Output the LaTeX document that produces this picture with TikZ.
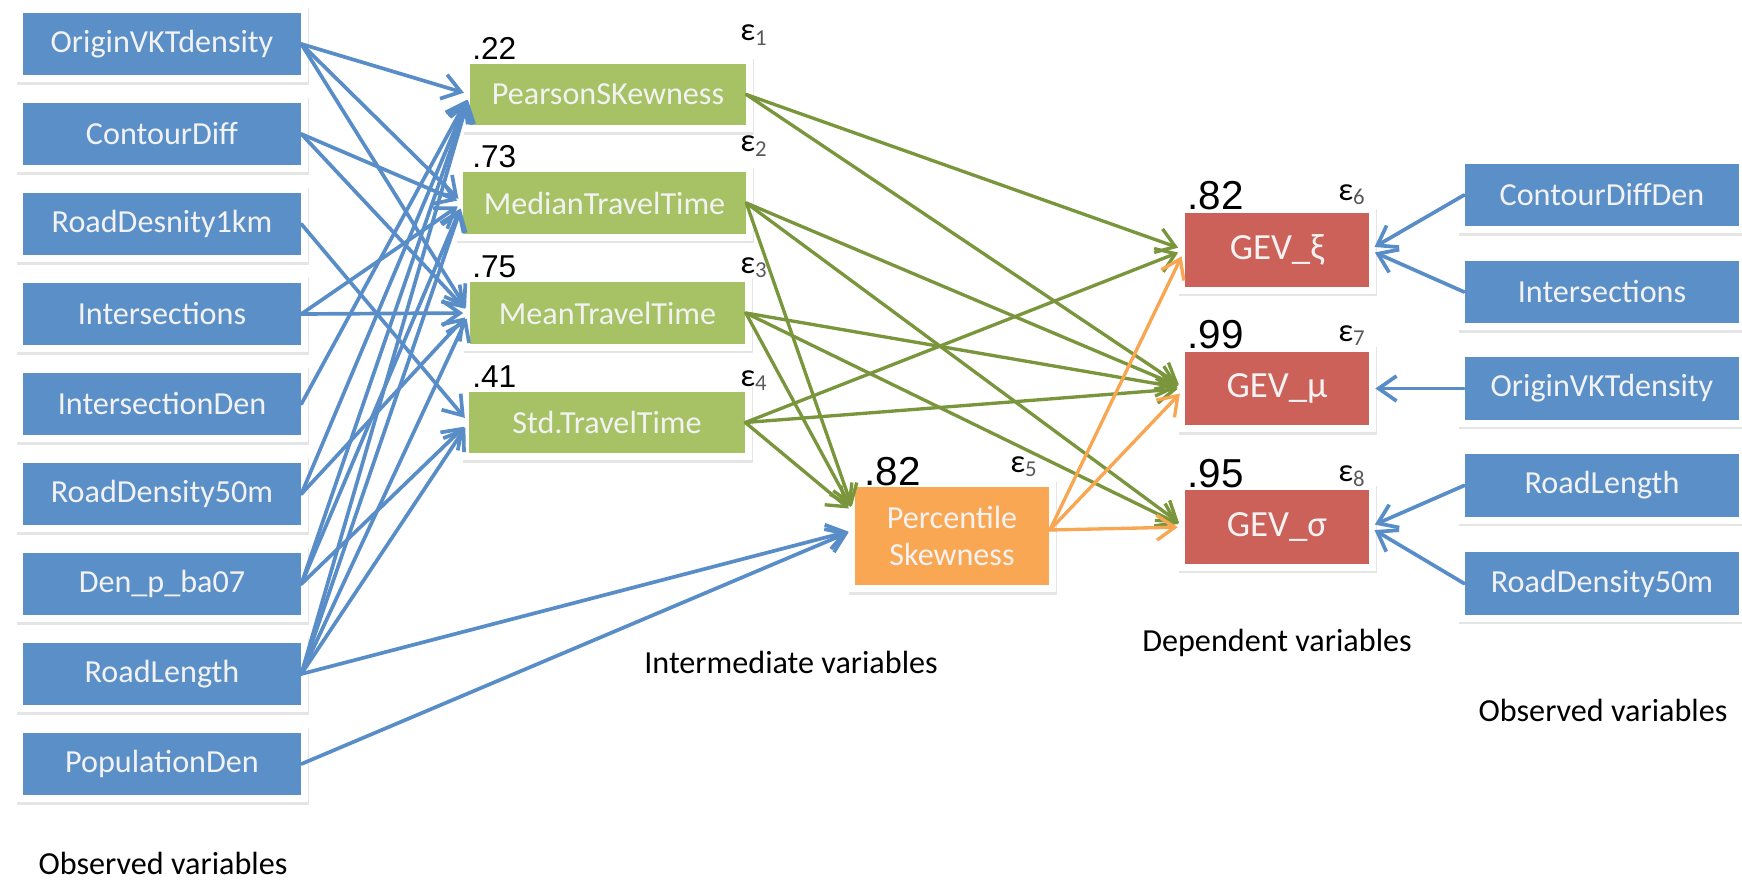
\documentclass[tikz,border=0pt]{standalone}
\usepackage{fontspec}
\setmainfont{Carlito}
\newfontfamily\numfont{Liberation Sans}
\usetikzlibrary{arrows.meta,shadows}
\definecolor{obsblue}{RGB}{91,143,200}
\definecolor{lineblue}{RGB}{88,141,200}
\definecolor{midgreen}{RGB}{166,194,100}
\definecolor{linegreen}{RGB}{122,150,60}
\definecolor{depred}{RGB}{204,97,89}
\definecolor{pctorange}{RGB}{250,167,84}
\definecolor{lineorange}{RGB}{249,166,82}
\begin{document}
\begin{tikzpicture}[x=0.02cm,y=-0.02cm,
  card/.style={rectangle, inner sep=0pt, text=white!95!black,
    font=\fontsize{18.3}{21}\selectfont,
    drop shadow={shadow xshift=0.02cm, shadow yshift=-0.05cm, fill=black!25, draw=black!25, line width=0.28cm, opacity=0.4},
    preaction={draw=white, line width=0.28cm}},
  obs/.style={card, fill=obsblue, minimum width=5.56cm, minimum height=1.26cm},
  robs/.style={card, fill=obsblue, minimum width=5.5cm, minimum height=1.26cm},
  mid/.style={card, fill=midgreen, minimum width=5.52cm, minimum height=1.24cm},
  dep/.style={card, fill=depred, minimum width=3.68cm, minimum height=1.48cm, font=\fontsize{21}{24}\selectfont},
  pctbox/.style={card, fill=pctorange, minimum width=3.9cm, minimum height=1.98cm, align=center},
  numlab/.style={inner sep=0pt, anchor=base west, font=\numfont\fontsize{18}{18}\selectfont},
  biglab/.style={inner sep=0pt, anchor=base west, font=\numfont\fontsize{23}{23}\selectfont},
  epslab/.style={inner sep=0pt, anchor=base west, font=\fontsize{18.5}{18}\selectfont},
  caption/.style={inner sep=0pt, anchor=base, font=\fontsize{18.3}{21}\selectfont},
  barb/.style={-{Straight Barb[length=0.36cm,width=0.5cm]}, line cap=round},
  bl/.style={barb, draw=lineblue, line width=2.1pt, shorten >=0.12cm},
  gr/.style={barb, draw=linegreen, line width=1.9pt, shorten >=0.14cm},
  og/.style={barb, draw=lineorange, line width=1.9pt, shorten >=0.14cm}
]
\useasboundingbox (0,0) rectangle (1742,882);
% left observed
\node[obs] (ovkt) at (162,44) {OriginVKTdensity};
\node[obs] (cd) at (162,134) {ContourDiff};
\node[obs] (rd1) at (162,224) {RoadDesnity1km};
\node[obs] (int) at (162,314) {Intersections};
\node[obs] (intd) at (162,404) {IntersectionDen};
\node[obs] (rd50) at (162,494) {RoadDensity50m};
\node[obs] (denp) at (162,584) {Den\_p\_ba07};
\node[obs] (rl) at (162,674) {RoadLength};
\node[obs] (pop) at (162,764) {PopulationDen};
% intermediate
\node[mid] (pear) at (608,94.5) {PearsonSKewness};
\node[mid, minimum width=5.66cm] (med) at (604.5,203) {MedianTravelTime};
\node[mid] (mean) at (607.5,313) {MeanTravelTime};
\node[mid] (std) at (607,422.5) {Std.TravelTime};
\node[pctbox] (pct) at (952,536) {Percentile\\Skewness};
% dependent
\node[dep] (gx) at (1277,250) {GEV\_ξ};
\node[dep] (gm) at (1277,388.5) {GEV\_μ};
\node[dep] (gs) at (1277,527) {GEV\_σ};
% right observed
\node[robs] (rcdd) at (1602,195) {ContourDiffDen};
\node[robs] (rint) at (1602,292) {Intersections};
\node[robs] (rovkt) at (1602,388.5) {OriginVKTdensity};
\node[robs] (rrl) at (1602,485.5) {RoadLength};
\node[robs] (rrd50) at (1602,583.5) {RoadDensity50m};
% labels
\node[numlab] (l1) at (472,60) {.22};
\node[numlab] (l2) at (472,168) {.73};
\node[numlab] (l3) at (472,277) {.75};
\node[numlab] (l4) at (472,387) {.41};
\node[biglab] (l5) at (864,485) {.82};
\node[biglab] (l6) at (1187,210) {.82};
\node[biglab] (l7) at (1187,348) {.99};
\node[biglab] (l8) at (1187,487) {.95};
\node[epslab] (e1) at (740,41) {ε\textsubscript{\color{black!65}1}};
\node[epslab] (e2) at (740,152) {ε\textsubscript{\color{black!65}2}};
\node[epslab] (e3) at (740,273) {ε\textsubscript{\color{black!65}3}};
\node[epslab] (e4) at (740,386) {ε\textsubscript{\color{black!65}4}};
\node[epslab] (e5) at (1010,472) {ε\textsubscript{\color{black!65}5}};
\node[epslab] (e6) at (1338,200) {ε\textsubscript{\color{black!65}6}};
\node[epslab] (e7) at (1338,341) {ε\textsubscript{\color{black!65}7}};
\node[epslab] (e8) at (1338,481) {ε\textsubscript{\color{black!65}8}};
\node[caption] (c1) at (163,874) {Observed variables};
\node[caption] (c2) at (791,673) {Intermediate variables};
\node[caption] (c3) at (1277,651) {Dependent variables};
\node[caption] (c4) at (1603,721) {Observed variables};
% connection points
\coordinate (pctinG) at ([yshift=0.46cm]pct.west);
\coordinate (pctinB) at ([yshift=0.12cm]pct.west);
\coordinate (pctout) at ([yshift=0.12cm]pct.east);
% left blue edges
\draw[bl] (ovkt.east) -- (pear.west);
\draw[bl] (ovkt.east) -- (med.west);
\draw[bl] (ovkt.east) -- (mean.west);
\draw[bl] (cd.east) -- (med.west);
\draw[bl] (cd.east) -- (mean.west);
\draw[bl] (rd1.east) -- (std.west);
\draw[bl] (int.east) -- (mean.west);
\draw[bl] (int.east) -- (med.west);
\draw[bl] (intd.east) -- (pear.west);
\draw[bl] (rd50.east) -- (pear.west);
\draw[bl] (rd50.east) -- (mean.west);
\draw[bl] (denp.east) -- (pear.west);
\draw[bl] (denp.east) -- (med.west);
\draw[bl] (denp.east) -- (std.west);
\draw[bl] (rl.east) -- (pear.west);
\draw[bl] (rl.east) -- (med.west);
\draw[bl] (rl.east) -- (mean.west);
\draw[bl] (rl.east) -- (std.west);
\draw[bl] (rl.east) -- (pctinB);
\draw[bl] (pop.east) -- (pctinB);
% green edges
\draw[gr] (pear.east) -- (gx.west);
\draw[gr] (pear.east) -- (gm.west);
\draw[gr] (med.east) -- (gm.west);
\draw[gr] (med.east) -- (gs.west);
\draw[gr] (med.east) -- (pctinG);
\draw[gr] (mean.east) -- (gm.west);
\draw[gr] (mean.east) -- (gs.west);
\draw[gr] (mean.east) -- (pctinG);
\draw[gr] (std.east) -- (gx.west);
\draw[gr] (std.east) -- (gm.west);
\draw[gr] (std.east) -- (pctinG);
% orange edges
\draw[og] (pctout) -- (gx.west);
\draw[og] (pctout) -- (gm.west);
\draw[og] (pctout) -- (gs.west);
% right blue edges
\draw[bl] (rcdd.west) -- (gx.east);
\draw[bl] (rint.west) -- (gx.east);
\draw[bl] (rovkt.west) -- (gm.east);
\draw[bl] (rrl.west) -- (gs.east);
\draw[bl] (rrd50.west) -- (gs.east);
\end{tikzpicture}
\end{document}
